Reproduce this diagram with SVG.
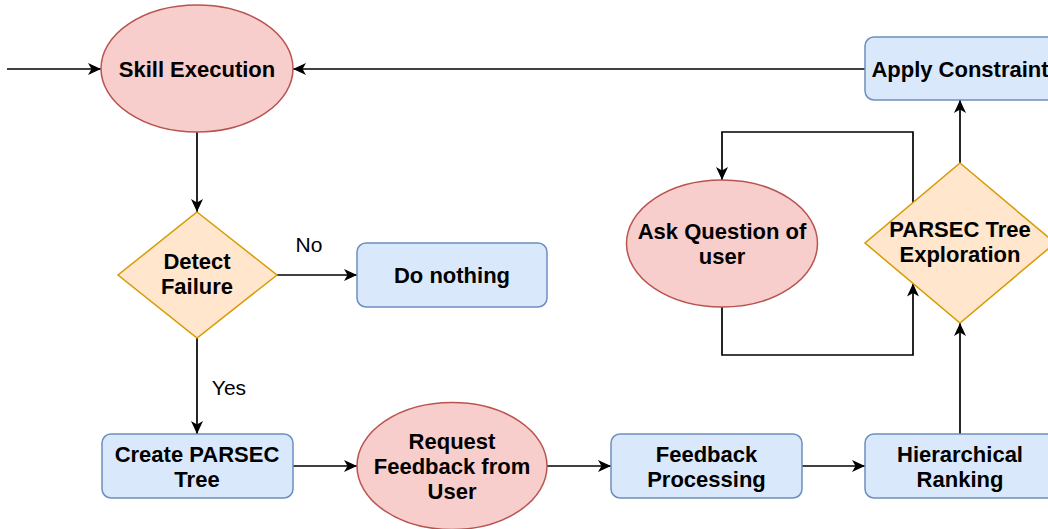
<svg xmlns="http://www.w3.org/2000/svg" width="1048" height="529" viewBox="0 0 1048 529">
<style>
.red{fill:#f8cecc;stroke:#b85450;stroke-width:1.5}
.org{fill:#ffe6cc;stroke:#d79b00;stroke-width:1.5}
.blu{fill:#dae8fc;stroke:#6c8ebf;stroke-width:1.5}
.t{font-family:"Liberation Sans",Arial,sans-serif;font-weight:bold;font-size:22px;fill:#000;text-anchor:middle}
.l{font-family:"Liberation Sans",Arial,sans-serif;font-size:21px;fill:#000;text-anchor:middle}
.c{fill:none;stroke:#000;stroke-width:1.7}
</style>
<defs>
<marker id="arr" viewBox="0 0 13 12" refX="13" refY="6" markerWidth="13" markerHeight="12" orient="auto" markerUnits="userSpaceOnUse"><path d="M0,0 L13,6 L0,12 L3.5,6 z" fill="#000"/></marker>
</defs>
<rect width="1048" height="529" fill="#fff"/>
<g id="connectors">
<path class="c" d="M7,69 H101" marker-end="url(#arr)"/>
<path class="c" d="M865,69 H293" marker-end="url(#arr)"/>
<path class="c" d="M197,132 V212" marker-end="url(#arr)"/>
<path class="c" d="M277,275 H357" marker-end="url(#arr)"/>
<path class="c" d="M197,338 V434" marker-end="url(#arr)"/>
<path class="c" d="M293,466 H357" marker-end="url(#arr)"/>
<path class="c" d="M547,466 H611" marker-end="url(#arr)"/>
<path class="c" d="M802,466 H865" marker-end="url(#arr)"/>
<path class="c" d="M960,434 V323" marker-end="url(#arr)"/>
<path class="c" d="M960,163 V100" marker-end="url(#arr)"/>
<path class="c" d="M913,203 V132 H722 V180" marker-end="url(#arr)"/>
<path class="c" d="M722,307 V355 H913 V283.5" marker-end="url(#arr)"/>
<text class="l" x="309" y="252">No</text>
<text class="l" x="229" y="395">Yes</text>
</g>
<g id="skill-execution">
<ellipse class="red" cx="197" cy="68.5" rx="96" ry="63.5"/>
<text class="t" x="197" y="77">Skill Execution</text>
</g>
<g id="apply-constraint">
<rect class="blu" x="865" y="37" width="200" height="63" rx="9"/>
<text class="t" x="960" y="77">Apply Constraint</text>
</g>
<g id="detect-failure">
<polygon class="org" points="197,212 277,275 197,338 118,275"/>
<text class="t" x="197" y="268.5">Detect</text>
<text class="t" x="197" y="293.5">Failure</text>
</g>
<g id="do-nothing">
<rect class="blu" x="357" y="243" width="190" height="64" rx="9"/>
<text class="t" x="452" y="283">Do nothing</text>
</g>
<g id="create-parsec-tree">
<rect class="blu" x="102" y="434" width="191" height="64" rx="9"/>
<text class="t" x="197" y="461.5">Create PARSEC</text>
<text class="t" x="197" y="486.5">Tree</text>
</g>
<g id="request-feedback">
<ellipse class="red" cx="452" cy="466" rx="95" ry="63.5"/>
<text class="t" x="452" y="449">Request</text>
<text class="t" x="452" y="474">Feedback from</text>
<text class="t" x="452" y="499">User</text>
</g>
<g id="feedback-processing">
<rect class="blu" x="611" y="434" width="191" height="64" rx="9"/>
<text class="t" x="706.5" y="461.5">Feedback</text>
<text class="t" x="706.5" y="486.5">Processing</text>
</g>
<g id="hierarchical-ranking">
<rect class="blu" x="865" y="434" width="191" height="64" rx="9"/>
<text class="t" x="960" y="461.5">Hierarchical</text>
<text class="t" x="960" y="486.5">Ranking</text>
</g>
<g id="parsec-tree-exploration">
<polygon class="org" points="960,163 1055,243 960,323 865,243"/>
<text class="t" x="960" y="237">PARSEC Tree</text>
<text class="t" x="960" y="262">Exploration</text>
</g>
<g id="ask-question">
<ellipse class="red" cx="722" cy="243.5" rx="95.5" ry="63.5"/>
<text class="t" x="722" y="238.5">Ask Question of</text>
<text class="t" x="722" y="263.5">user</text>
</g>
</svg>
